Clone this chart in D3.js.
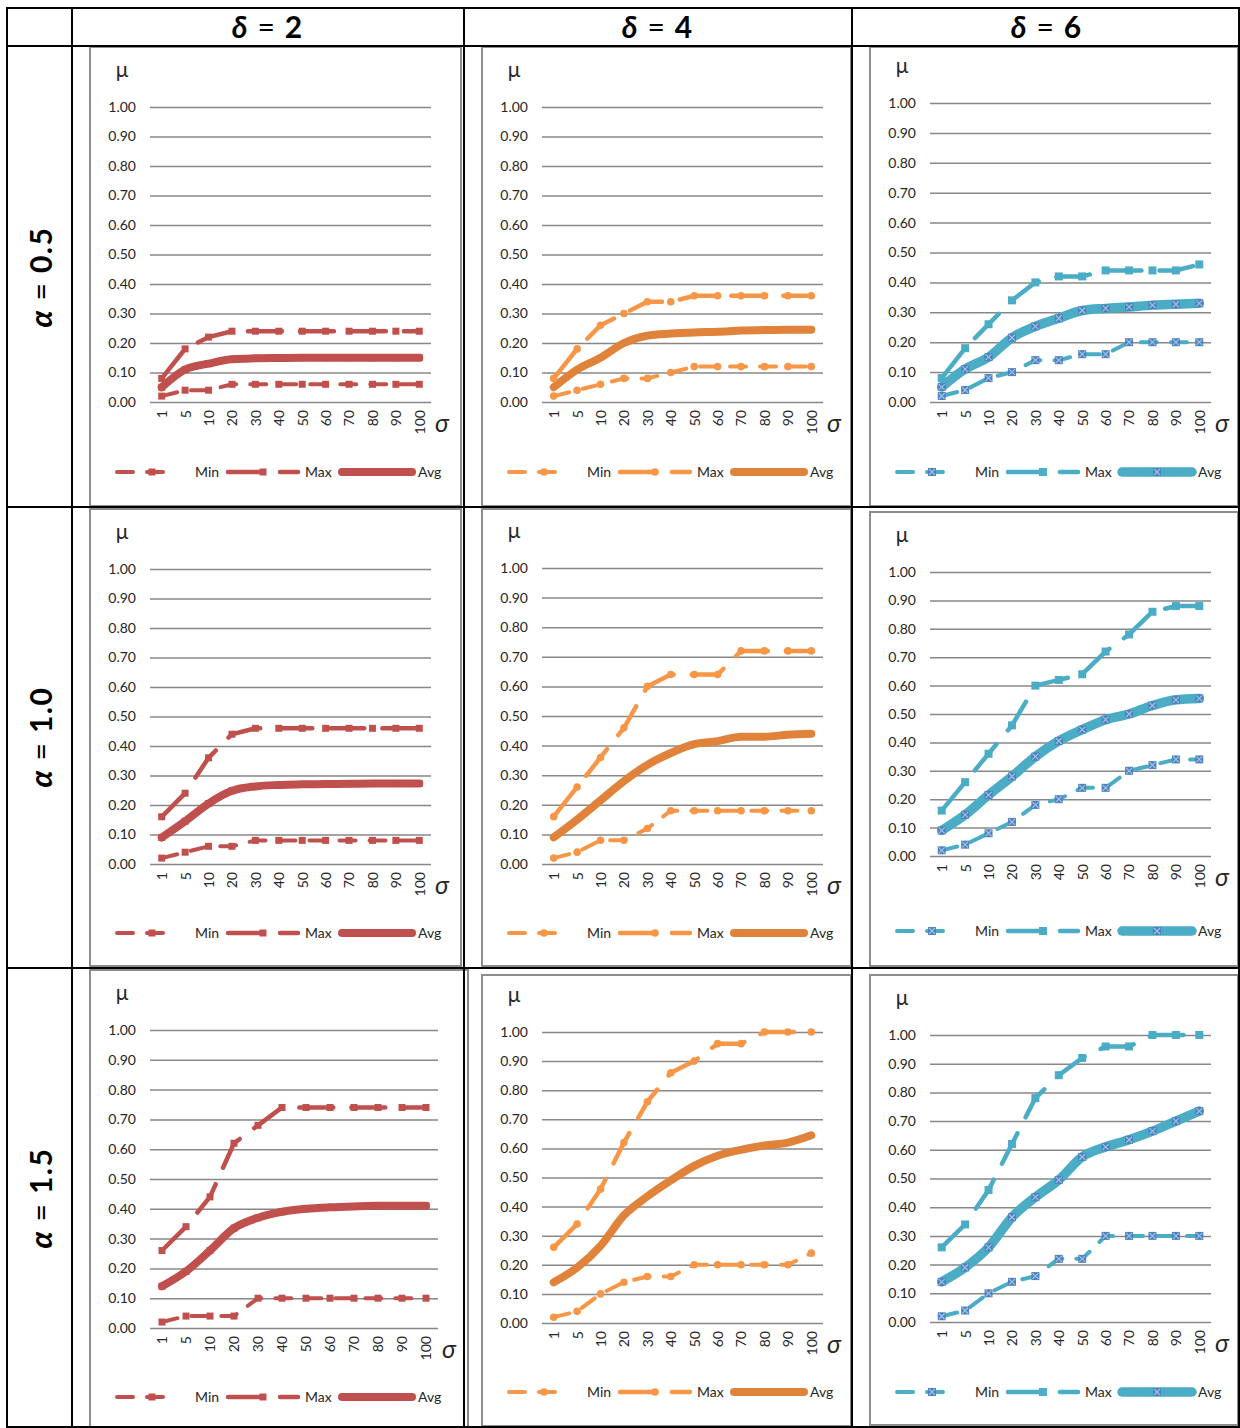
<!DOCTYPE html>
<html>
<head>
<meta charset="utf-8">
<script src="https://cdn.jsdelivr.net/npm/d3@7"></script>
<style>
body{margin:0;background:#fff}
text{font-family:Lato,'Open Sans',sans-serif}
</style>
</head>
<body>
<script>
const sigma = ['1','5','10','20','30','40','50','60','70','80','90','100']
const muTicks = [0,0.1,0.2,0.3,0.4,0.5,0.6,0.7,0.8,0.9,1.0]
const deltas = ['2','4','6']
const alphas = ['0.5','1.0','1.5']
const seriesNames = ['Min','Max','Avg']

// alpha = 0.5
const minA05D2 = [0.02,0.04,0.04,0.06,0.06,0.06,0.06,0.06,0.06,0.06,0.06,0.06]
const maxA05D2 = [0.08,0.18,0.22,0.24,0.24,0.24,0.24,0.24,0.24,0.24,0.24,0.24]
const avgA05D2 = [0.05,0.11,0.13,0.145,0.148,0.149,0.15,0.15,0.15,0.15,0.15,0.15]
const minA05D4 = [0.02,0.04,0.06,0.08,0.08,0.10,0.12,0.12,0.12,0.12,0.12,0.12]
const maxA05D4 = [0.08,0.18,0.26,0.30,0.34,0.34,0.36,0.36,0.36,0.36,0.36,0.36]
const avgA05D4 = [0.05,0.11,0.15,0.20,0.225,0.232,0.236,0.238,0.242,0.244,0.245,0.245]
const minA05D6 = [0.02,0.04,0.08,0.10,0.14,0.14,0.16,0.16,0.20,0.20,0.20,0.20]
const maxA05D6 = [0.08,0.18,0.26,0.34,0.40,0.42,0.42,0.44,0.44,0.44,0.44,0.46]
const avgA05D6 = [0.05,0.11,0.15,0.215,0.253,0.28,0.306,0.313,0.318,0.324,0.327,0.33]
// alpha = 1.0
const minA10D2 = [0.02,0.04,0.06,0.06,0.08,0.08,0.08,0.08,0.08,0.08,0.08,0.08]
const maxA10D2 = [0.16,0.24,0.36,0.44,0.46,0.46,0.46,0.46,0.46,0.46,0.46,0.46]
const avgA10D2 = [0.09,0.145,0.205,0.248,0.263,0.268,0.27,0.271,0.272,0.273,0.273,0.273]
const minA10D4 = [0.02,0.04,0.08,0.08,0.12,0.18,0.18,0.18,0.18,0.18,0.18,0.18]
const maxA10D4 = [0.16,0.26,0.36,0.46,0.60,0.64,0.64,0.64,0.72,0.72,0.72,0.72]
const avgA10D4 = [0.09,0.15,0.215,0.28,0.335,0.375,0.405,0.415,0.43,0.43,0.437,0.44]
const minA10D6 = [0.02,0.04,0.08,0.12,0.18,0.20,0.24,0.24,0.30,0.32,0.34,0.34]
const maxA10D6 = [0.16,0.26,0.36,0.46,0.60,0.62,0.64,0.72,0.78,0.86,0.88,0.88]
const avgA10D6 = [0.09,0.145,0.215,0.28,0.35,0.405,0.445,0.48,0.50,0.53,0.55,0.555]
// alpha = 1.5
const minA15D2 = [0.02,0.04,0.04,0.04,0.10,0.10,0.10,0.10,0.10,0.10,0.10,0.10]
const maxA15D2 = [0.26,0.34,0.44,0.62,0.68,0.74,0.74,0.74,0.74,0.74,0.74,0.74]
const avgA15D2 = [0.14,0.19,0.26,0.335,0.37,0.39,0.40,0.405,0.408,0.41,0.41,0.41]
const minA15D4 = [0.02,0.04,0.10,0.14,0.16,0.16,0.20,0.20,0.20,0.20,0.20,0.24]
const maxA15D4 = [0.26,0.34,0.46,0.62,0.76,0.86,0.90,0.96,0.96,1.00,1.00,1.00]
const avgA15D4 = [0.14,0.19,0.265,0.37,0.435,0.49,0.54,0.575,0.595,0.61,0.62,0.645]
const minA15D6 = [0.02,0.04,0.10,0.14,0.16,0.22,0.22,0.30,0.30,0.30,0.30,0.30]
const maxA15D6 = [0.26,0.34,0.46,0.62,0.78,0.86,0.92,0.96,0.96,1.00,1.00,1.00]
const avgA15D6 = [0.14,0.19,0.26,0.365,0.435,0.495,0.575,0.61,0.635,0.665,0.70,0.735]

const grid = [
  [[minA05D2,maxA05D2,avgA05D2],[minA05D4,maxA05D4,avgA05D4],[minA05D6,maxA05D6,avgA05D6]],
  [[minA10D2,maxA10D2,avgA10D2],[minA10D4,maxA10D4,avgA10D4],[minA10D6,maxA10D6,avgA10D6]],
  [[minA15D2,maxA15D2,avgA15D2],[minA15D4,maxA15D4,avgA15D4],[minA15D6,maxA15D6,avgA15D6]]
]

// box: x,y,w,h ; plot: left,right,top(1.00),bottom(0.00)
const layout = [
  [{box:[90,47,371,459],plot:[150,431,107,402],leg:472},{box:[482,47,369,459],plot:[542,823,107,402],leg:472},{box:[870,47,368,459],plot:[930,1211,103,402],leg:472}],
  [{box:[90,509,371,457],plot:[150,431,569,864],leg:933},{box:[482,509,369,457],plot:[542,823,568,864],leg:933},{box:[870,512,368,454],plot:[930,1211,572,856],leg:931}],
  [{box:[90,970,378,458],plot:[150,438,1030,1328],leg:1397},{box:[482,975,369,451],plot:[542,823,1032,1323],leg:1392},{box:[870,975,368,450],plot:[930,1211,1035,1322],leg:1392}]
]

const colStyles = [
  {line:['#C0504D','#C0504D','#C0504D'],marker:'square',mfill:['#C0504D','#C0504D','#C0504D'],avgW:8},
  {line:['#F79646','#F79646','#E0823A'],marker:'circle',mfill:['#F79646','#F79646','#E0823A'],avgW:8},
  {line:['#4BACC6','#4BACC6','#4BACC6'],marker:'xsquare',mfill:['#4F81BD','#4BACC6','#4F81BD'],avgW:9.5}
]

const width = 1240, height = 1428
const svg = d3.select('body').append('svg')
  .attr('width',width)
  .attr('height',height)

function lineStyle(sel,i,st){
  if(i===0) sel.attr('stroke-width',4).attr('stroke-dasharray','16,14').attr('stroke-linecap','round')
  else if(i===1) sel.attr('stroke-width',4.5).attr('stroke-dasharray','34,18').attr('stroke-linecap','round')
  else sel.attr('stroke-width',st.avgW).attr('stroke-linecap','round').attr('stroke-linejoin','round')
  return sel
}

function drawMarker(g,x,y,i,st){
  const fill = st.mfill[i]
  if(st.marker==='circle'){
    g.append('circle').attr('cx',x).attr('cy',y).attr('r',i===2?2.5:3.8).attr('fill',fill)
  } else if(st.marker==='square'){
    g.append('rect').attr('x',x-3.5).attr('y',y-3.5).attr('width',7).attr('height',7).attr('fill',fill)
  } else {
    g.append('rect').attr('x',x-4).attr('y',y-4).attr('width',8).attr('height',8).attr('fill',fill)
    if(i!==1){
      g.append('path').attr('d',`M${x-3},${y-3}L${x+3},${y+3}M${x+3},${y-3}L${x-3},${y+3}`)
        .attr('stroke','#9DC3E6').attr('stroke-width',1.2)
    }
  }
}

function drawChart(r,c){
  const L = layout[r][c], st = colStyles[c], data = grid[r][c]
  const [bx,by,bw,bh] = L.box
  const [px0,px1,py1,py0] = L.plot
  const g = svg.append('g')

  g.append('rect').attr('x',bx).attr('y',by).attr('width',bw).attr('height',bh)
    .attr('fill','#fff').attr('stroke','#8c8c8c').attr('stroke-width',2)

  const x = d3.scalePoint().domain(sigma).range([px0,px1]).padding(0.5)
  const y = d3.scaleLinear().domain([0,1]).range([py0,py1])

  const ya = g.append('g').attr('transform',`translate(${px0},0)`)
    .call(d3.axisLeft(y).tickValues(muTicks).tickFormat(d3.format('.2f'))
      .tickSizeInner(-(px1-px0)).tickSizeOuter(0).tickPadding(14))
  ya.select('.domain').remove()
  ya.selectAll('line').attr('stroke','#878787').attr('stroke-width',1.5)
  ya.selectAll('text').attr('font-size',14).attr('fill','#262626').attr('font-family','Lato')

  const xa = g.append('g').attr('transform',`translate(0,${py0})`)
    .call(d3.axisBottom(x).tickSize(0))
  xa.select('.domain').remove()
  xa.selectAll('text')
    .attr('font-size',14).attr('fill','#262626').attr('font-family','Lato')
    .attr('transform','rotate(-90)').attr('x',-8).attr('y',0).attr('dy','0.35em')
    .attr('text-anchor','end')

  g.append('text').attr('x',bx+32).attr('y',py1-37).attr('dy','0.35em')
    .attr('text-anchor','middle').attr('font-size',21).attr('fill','#262626').text('μ')
  g.append('text').attr('x',px1+4).attr('y',py0+30)
    .attr('font-family','DejaVu Serif').attr('font-style','italic').attr('font-size',25)
    .attr('fill','#262626').text('σ')

  data.forEach((vals,i) => {
    const pts = vals.map((v,k) => [x(sigma[k]),y(v)])
    const line = d3.line().curve(i===2 ? d3.curveMonotoneX : d3.curveLinear)
    lineStyle(g.append('path').attr('d',line(pts)).attr('fill','none').attr('stroke',st.line[i]),i,st)
  })
  data.forEach((vals,i) => {
    vals.forEach((v,k) => drawMarker(g,x(sigma[k]),y(v),i,st))
  })

  // legend
  const lx = [bx+27,bx+138,bx+252]
  const lw = [58,70,70]
  const tx = [bx+105,bx+215,bx+328]
  seriesNames.forEach((name,i) => {
    lineStyle(g.append('line').attr('x1',lx[i]).attr('x2',lx[i]+lw[i]).attr('y1',L.leg).attr('y2',L.leg)
      .attr('stroke',st.line[i]),i,st)
    drawMarker(g,lx[i]+35,L.leg,i,st)
    g.append('text').attr('x',tx[i]).attr('y',L.leg).attr('dy','0.35em')
      .attr('font-size',14).attr('fill','#262626').text(name)
  })
}

for(let r=0;r<3;r++) for(let c=0;c<3;c++) drawChart(r,c)

// table lines
const tbl = svg.append('g').attr('stroke','#000').attr('stroke-width',2)
tbl.append('rect').attr('x',7).attr('y',8).attr('width',1232).attr('height',1419).attr('fill','none')
;[72,464,852].forEach(v => tbl.append('line').attr('x1',v).attr('x2',v).attr('y1',8).attr('y2',1428))
;[46,507,968].forEach(v => tbl.append('line').attr('x1',7).attr('x2',1240).attr('y1',v).attr('y2',v))

// headers
const colCenters = [267,657,1046]
deltas.forEach((d,i) => {
  const t = svg.append('text').attr('x',colCenters[i]).attr('y',38).attr('text-anchor','middle')
    .attr('font-family','DejaVu Serif').attr('font-weight','bold').attr('font-size',30).attr('fill','#000')
  t.append('tspan').attr('font-style','italic').text('δ')
  t.append('tspan').attr('dx',10).attr('font-weight','normal').text('=')
  t.append('tspan').attr('dx',10).text(d)
})
const rowCenters = [277,737,1198]
alphas.forEach((a,i) => {
  const t = svg.append('text').attr('transform',`translate(41,${rowCenters[i]}) rotate(-90)`)
    .attr('text-anchor','middle').attr('dy','0.35em')
    .attr('font-family','DejaVu Serif').attr('font-weight','bold').attr('font-size',30).attr('fill','#000')
  t.append('tspan').attr('font-style','italic').text('α')
  t.append('tspan').attr('dx',10).attr('font-weight','normal').text('=')
  t.append('tspan').attr('dx',10).attr('letter-spacing','1.5').text(a)
})
</script>
</body>
</html>
